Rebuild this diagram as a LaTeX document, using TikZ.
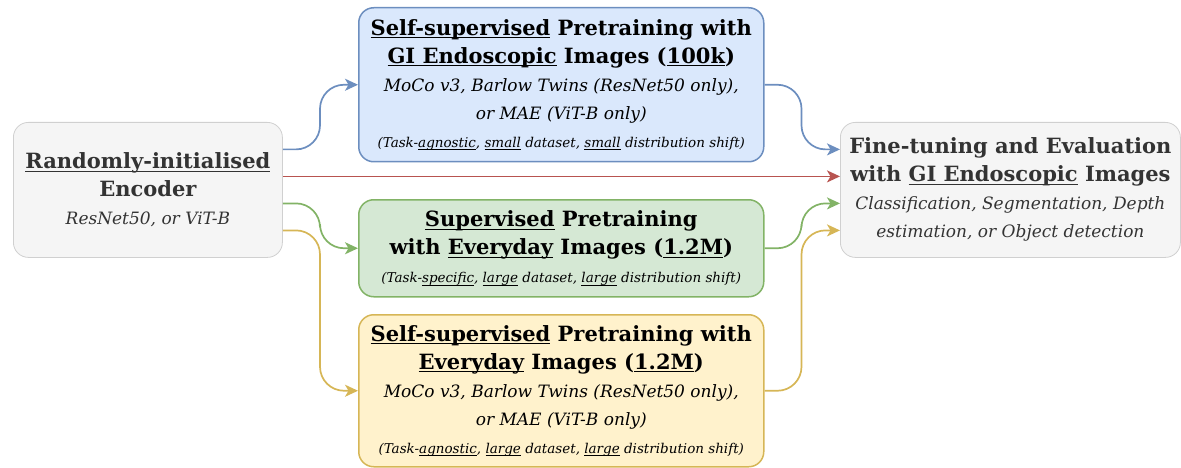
\documentclass[tikz,border=0pt]{standalone}
\usepackage{fontspec}
\setmainfont{DejaVu Serif}
\usetikzlibrary{arrows.meta,calc}
\definecolor{blueF}{HTML}{DAE8FC}\definecolor{blueD}{HTML}{6C8EBF}
\definecolor{greenF}{HTML}{D5E8D4}\definecolor{greenD}{HTML}{82B366}
\definecolor{yelF}{HTML}{FFF2CC}\definecolor{yelD}{HTML}{D6B656}
\definecolor{grayF}{HTML}{F5F5F5}\definecolor{grayD}{HTML}{D0D0D0}
\definecolor{txtG}{HTML}{333333}\definecolor{redD}{HTML}{B85450}
\newcommand{\ttl}{\fontsize{21}{28}\selectfont\bfseries}
\newcommand{\itl}{\fontsize{17}{28}\selectfont\itshape}
\newcommand{\sml}{\fontsize{13.5}{28}\selectfont\itshape}
\newcommand{\myul}[1]{\setbox0\hbox{#1}\rlap{\rule[-3pt]{\wd0}{1.2pt}}\box0\relax}
\tikzset{
  box/.style={draw, rounded corners=15pt, anchor=north west, align=center, inner sep=0pt,
    font={\fontsize{17}{28}\selectfont}},
  boxgray/.style={box, fill=grayF, draw=grayD, line width=0.8pt, text=txtG},
  boxblue/.style={box, fill=blueF, draw=blueD, line width=1.5pt},
  boxgreen/.style={box, fill=greenF, draw=greenD, line width=1.5pt},
  boxyel/.style={box, fill=yelF, draw=yelD, line width=1.5pt},
  conn/.style={line width=1.7pt, rounded corners=24pt, -{Stealth[length=13pt,width=12pt,inset=3.5pt]}},
}
\begin{document}
\begin{tikzpicture}[x=1pt,y=1pt]
\useasboundingbox (0,0) rectangle (1181,-468);
\node[boxgray, minimum width=269pt, minimum height=135pt] (L) at (13,-122)
  {\ttl\myul{Randomly-initialised}\\ \ttl Encoder\\ \itl ResNet50, or ViT-B};
\node[boxblue, minimum width=405pt, minimum height=154pt] (B) at (358,-7)
  {\ttl\myul{Self-supervised} Pretraining with\\
   \ttl\myul{GI Endoscopic} Images (\myul{100k})\\
   \itl MoCo v3, Barlow Twins (ResNet50 only),\\
   \itl or MAE (ViT-B only)\\
   \sml (Task-\myul{agnostic}, \myul{small} dataset, \myul{small} distribution shift)};
\node[boxgreen, minimum width=405pt, minimum height=97pt] (G) at (358,-199)
  {\ttl\myul{Supervised} Pretraining\\
   \ttl with \myul{Everyday} Images (\myul{1.2M})\\
   \sml (Task-\myul{specific}, \myul{large} dataset, \myul{large} distribution shift)};
\node[boxyel, minimum width=405pt, minimum height=152pt] (Y) at (358,-314)
  {\ttl\myul{Self-supervised} Pretraining with\\
   \ttl\myul{Everyday} Images (\myul{1.2M})\\
   \itl MoCo v3, Barlow Twins (ResNet50 only),\\
   \itl or MAE (ViT-B only)\\
   \sml (Task-\myul{agnostic}, \myul{large} dataset, \myul{large} distribution shift)};
\node[boxgray, minimum width=340pt, minimum height=135pt] (F) at (840,-122)
  {\ttl Fine-tuning and Evaluation\\
   \ttl with \myul{GI Endoscopic} Images\\
   \itl Classification, Segmentation, Depth\\
   \itl estimation, or Object detection};
\coordinate (mL) at (320,0);
\coordinate (mR) at (801.5,0);
\coordinate (L1) at ([yshift=40.5pt]L.east);
\coordinate (L2) at ([yshift=13.5pt]L.east);
\coordinate (L3) at ([yshift=-13.5pt]L.east);
\coordinate (L4) at ([yshift=-40.5pt]L.east);
\coordinate (F1) at ([yshift=40.5pt]F.west);
\coordinate (F2) at ([yshift=13.5pt]F.west);
\coordinate (F3) at ([yshift=-13.5pt]F.west);
\coordinate (F4) at ([yshift=-40.5pt]F.west);
\draw[conn, blueD] (L1) -| (mL |- B.west) -- (B.west);
\draw[conn, redD] (L2) -- (F2);
\draw[conn, greenD] (L3) -| (mL |- G.west) -- (G.west);
\draw[conn, yelD] (L4) -| (mL |- Y.west) -- (Y.west);
\draw[conn, blueD] (B.east) -| (mR |- F1) -- (F1);
\draw[conn, greenD] (G.east) -| (mR |- F3) -- (F3);
\draw[conn, yelD] (Y.east) -| (mR |- F4) -- (F4);
\end{tikzpicture}
\end{document}
